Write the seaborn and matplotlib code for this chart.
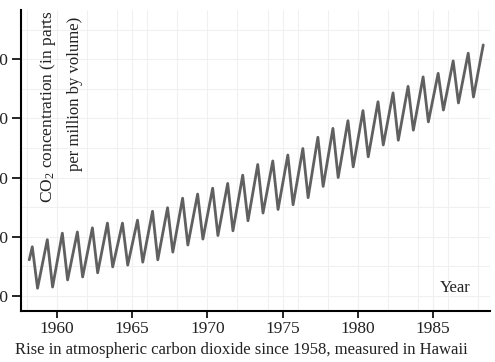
import matplotlib
matplotlib.use("Agg")
import matplotlib.pyplot as plt
import seaborn as sns
import pandas as pd

# ---- data ----
peak_years = [1958.35, 1959.35, 1960.35, 1961.35, 1962.35, 1963.35, 1964.35, 1965.35,
              1966.35, 1967.35, 1968.35, 1969.35, 1970.35, 1971.35, 1972.35, 1973.35,
              1974.35, 1975.35, 1976.35, 1977.35, 1978.35, 1979.35, 1980.35, 1981.35,
              1982.35, 1983.35, 1984.35, 1985.35, 1986.35, 1987.35, 1988.35]
peak_ppm = [318.3, 319.5, 320.6, 320.8, 321.5, 322.3, 322.3, 322.8,
            324.3, 324.9, 326.5, 327.2, 328.2, 329.0, 330.4, 332.2,
            332.8, 333.8, 334.9, 336.8, 338.3, 339.6, 341.3, 342.8,
            344.3, 345.4, 347.0, 347.6, 349.7, 351.0, 352.4]
trough_years = [1958.7, 1959.7, 1960.7, 1961.7, 1962.7, 1963.7, 1964.7, 1965.7,
                1966.7, 1967.7, 1968.7, 1969.7, 1970.7, 1971.7, 1972.7, 1973.7,
                1974.7, 1975.7, 1976.7, 1977.7, 1978.7, 1979.7, 1980.7, 1981.7,
                1982.7, 1983.7, 1984.7, 1985.7, 1986.7, 1987.7]
trough_ppm = [311.3, 311.5, 312.7, 313.2, 313.9, 314.9, 315.2, 315.7,
              316.1, 317.4, 318.6, 319.6, 320.2, 321.0, 322.7, 324.0,
              324.6, 325.4, 326.6, 328.5, 330.0, 331.8, 333.5, 335.5,
              336.3, 338.0, 339.4, 341.4, 342.6, 343.6]
start_year = [1958.15]
start_ppm = [316.1]

x_ticks = [1960, 1965, 1970, 1975, 1980, 1985]
y_ticks = [310, 320, 330, 340, 350]

ylabel_line1 = "CO$_\\mathregular{2}$ concentration (in parts"
ylabel_line2 = "per million by volume)"
xlabel_text = "Year"
caption = "Rise in atmospheric carbon dioxide since 1958, measured in Hawaii"

# ---- build the series ----
df = pd.DataFrame({
    "year": start_year + peak_years + trough_years,
    "co2": start_ppm + peak_ppm + trough_ppm,
}).sort_values("year").reset_index(drop=True)

sns.set_theme(style="white")
plt.rcParams["font.family"] = ["Liberation Serif", "DejaVu Serif"]
plt.rcParams["mathtext.fontset"] = "custom"
plt.rcParams["mathtext.rm"] = "Liberation Serif"
plt.rcParams["mathtext.it"] = "Liberation Serif:italic"

W, H = 495, 362
fig = plt.figure(figsize=(W / 100, H / 100), dpi=100)
fig.patch.set_facecolor("white")
ax = fig.add_axes([21 / W, 1 - 311 / H, (490 - 21) / W, (311 - 10) / H])
ax.set_facecolor("white")

sns.lineplot(data=df, x="year", y="co2", ax=ax, color="#606060",
             linewidth=2.0, estimator=None, sort=True)

ax.set_xlim(1957.6, 1988.8)
ax.set_ylim(307.45, 358.3)
ax.set_xticks(x_ticks)
ax.set_yticks(y_ticks)
ax.set_xticks(range(1958, 1989, 2), minor=True)
ax.set_yticks(range(310, 358, 5), minor=True)
ax.grid(True, which="both", color="#f0f0f0", linewidth=0.8)
ax.set_axisbelow(True)

for s in ["top", "right"]:
    ax.spines[s].set_visible(False)
for s in ["left", "bottom"]:
    ax.spines[s].set_color("black")
    ax.spines[s].set_linewidth(1.5)

ax.tick_params(axis="x", which="major", direction="out", length=5, width=1.2,
               color="black", labelsize=12.5, pad=2.5, bottom=True,
               labelcolor="#222222")
ax.tick_params(axis="y", which="major", direction="out", length=6.5, width=1.2,
               color="black", labelsize=12.5, pad=3, left=True,
               labelcolor="#222222")
ax.tick_params(which="minor", length=0)
ax.set_xlabel("")
ax.set_ylabel("")

fig.text(48 / W, 1 - 10 / H, ylabel_line1, rotation=90, ha="center", va="top",
         fontsize=12.5, color="#222222")
fig.text(75 / W, 1 - 17 / H, ylabel_line2, rotation=90, ha="center", va="top",
         fontsize=12, color="#222222")
fig.text(455 / W, 1 - 288 / H, xlabel_text, ha="center", va="center",
         fontsize=12, color="#222222")
fig.text(241 / W, 1 - 350 / H, caption, ha="center", va="center",
         fontsize=12, color="#222222")

fig.savefig("out.png", dpi=100, facecolor="white")
